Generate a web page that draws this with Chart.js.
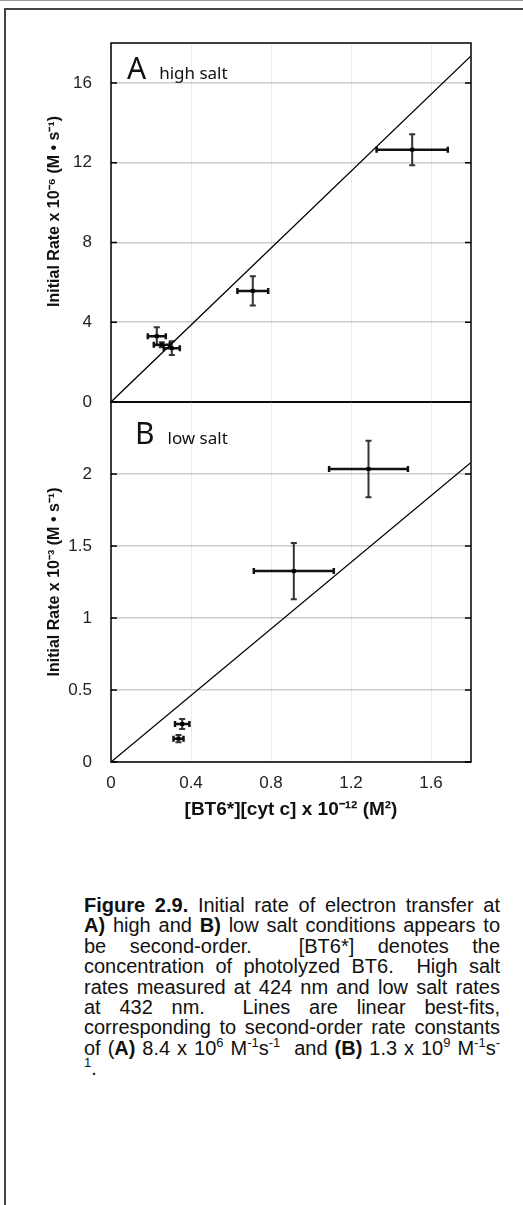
<!DOCTYPE html>
<html>
<head>
<meta charset="utf-8">
<script src="https://cdn.jsdelivr.net/npm/chart.js@4.4.1/dist/chart.umd.min.js"></script>
<style>
  html, body { margin: 0; padding: 0; background: #fff; }
  body { width: 523px; height: 1205px; position: relative; overflow: hidden; font-family: "Liberation Sans", Arial, sans-serif; border-top: 1px solid #999; box-sizing: border-box; }
  #frame { position: absolute; left: 4px; top: 7px; width: 700px; height: 1400px; border-left: 2px solid #444; border-top: 2px solid #444; }
  #topChart { position: absolute; left: 0; top: -1px; }
  #botChart { position: absolute; left: 0; top: 395px; }
  .panel { position: absolute; font-family: "Noto Sans", sans-serif; color: #111; white-space: nowrap; line-height: normal; }
  .panel .big { font-size: 30px; }
  .panel .small { font-size: 17px; margin-left: 13px; }
  #caption { position: absolute; left: 84px; top: 894px; width: 416px; font-size: 20px; line-height: 20.4px; color: #111; }
  #caption div { text-align: justify; text-align-last: justify; white-space: nowrap; }
  #caption div.last { text-align-last: left; }
  #caption sup { font-size: 0.65em; line-height: 0; vertical-align: 0.6em; }
</style>
</head>
<body>
<div id="frame"></div>
<canvas id="topChart" width="523" height="410"></canvas>
<canvas id="botChart" width="523" height="440"></canvas>
<div class="panel" style="left:127px; top:46px;"><span class="big">A</span><span class="small">high salt</span></div>
<div class="panel" style="left:135px; top:411px;"><span class="big">B</span><span class="small">low salt</span></div>
<div id="caption">
  <div><b>Figure 2.9.</b> Initial rate of electron transfer at</div>
  <div><b>A)</b> high and <b>B)</b> low salt conditions appears to</div>
  <div>be second-order.&nbsp; [BT6*] denotes the</div>
  <div>concentration of photolyzed BT6.&nbsp; High salt</div>
  <div>rates measured at 424 nm and low salt rates</div>
  <div>at 432 nm.&nbsp; Lines are linear best-fits,</div>
  <div>corresponding to second-order rate constants</div>
  <div>of (<b>A)</b> 8.4 x 10<sup>6</sup> M<sup>-1</sup>s<sup>-1</sup>&nbsp; and <b>(B)</b> 1.3 x 10<sup>9</sup> M<sup>-1</sup>s<sup>-</sup></div>
  <div class="last"><sup>1</sup>.</div>
</div>
<script>
// axis ranges and tick labels
var xMax = 1.8;
var xTicks = [0, 0.4, 0.8, 1.2, 1.6];
var yMaxA = 18;
var yTicksA = [0, 4, 8, 12, 16];
var yMaxB = 2.5;
var yTicksB = [0, 0.5, 1, 1.5, 2];

// A: high salt
var xA = [0.229, 0.254, 0.304, 0.709, 1.506];
var yA = [3.30, 2.87, 2.70, 5.57, 12.65];
var xErrA = [0.045, 0.04, 0.04, 0.077, 0.178];
var yErrA = [0.45, 0.12, 0.34, 0.73, 0.78];
var fitXA = [0, 1.8];
var fitYA = [0, 17.35];

// B: low salt
var xB = [0.356, 0.3375, 0.914, 1.2875];
var yB = [0.264, 0.162, 1.326, 2.035];
var xErrB = [0.036, 0.025, 0.2, 0.197];
var yErrB = [0.035, 0.025, 0.195, 0.196];
var fitXB = [0, 1.8];
var fitYB = [0, 2.08];

function pts(xs, ys) {
    return xs.map(function (x, i) { return { x: x, y: ys[i] }; });
}

// error bars, drawn under the square markers
var errorBars = {
    id: 'errorBars',
    beforeDatasetsDraw: function (chart) {
        var ctx = chart.ctx;
        var sx = chart.scales.x, sy = chart.scales.y;
        chart.data.datasets.forEach(function (ds) {
            if (!ds.xErr) return;
            ds.data.forEach(function (p, j) {
                var px = sx.getPixelForValue(p.x), py = sy.getPixelForValue(p.y);
                var x1 = sx.getPixelForValue(p.x - ds.xErr[j]), x2 = sx.getPixelForValue(p.x + ds.xErr[j]);
                var y1 = sy.getPixelForValue(p.y - ds.yErr[j]), y2 = sy.getPixelForValue(p.y + ds.yErr[j]);
                ctx.save();
                ctx.strokeStyle = '#111';
                ctx.lineWidth = 2.5;
                ctx.beginPath();
                ctx.moveTo(x1, py); ctx.lineTo(x2, py);
                ctx.moveTo(x1, py - 3); ctx.lineTo(x1, py + 3);
                ctx.moveTo(x2, py - 3); ctx.lineTo(x2, py + 3);
                ctx.stroke();
                ctx.strokeStyle = '#333';
                ctx.lineWidth = 2;
                ctx.beginPath();
                ctx.moveTo(px, y1); ctx.lineTo(px, y2);
                ctx.moveTo(px - 3, y1); ctx.lineTo(px + 3, y1);
                ctx.moveTo(px - 3, y2); ctx.lineTo(px + 3, y2);
                ctx.stroke();
                ctx.restore();
            });
        });
    }
};

// box round the plot and inward ticks on both sides
var frameBox = {
    id: 'frameBox',
    afterDraw: function (chart) {
        var ctx = chart.ctx, a = chart.chartArea, sy = chart.scales.y;
        ctx.save();
        ctx.strokeStyle = '#000';
        ctx.lineWidth = 1.5;
        ctx.strokeRect(a.left, a.top, a.right - a.left, a.bottom - a.top);
        ctx.beginPath();
        sy.ticks.forEach(function (t) {
            var py = sy.getPixelForValue(t.value);
            ctx.moveTo(a.left, py); ctx.lineTo(a.left + 6, py);
            ctx.moveTo(a.right - 6, py); ctx.lineTo(a.right, py);
        });
        ctx.stroke();
        ctx.restore();
    }
};

function noOverhang(s) {
    s.paddingTop = 0; s.paddingBottom = 0; s.paddingLeft = 0; s.paddingRight = 0;
}

function makeOptions(yMax, yTicks, yTitle, bottom) {
    return {
        responsive: false,
        devicePixelRatio: 1,
        animation: false,
        layout: { padding: bottom ? { top: 6, right: 52, bottom: 14, left: 0 } : { top: 43, right: 52, bottom: 8, left: 0 } },
        plugins: { legend: { display: false }, tooltip: { enabled: false } },
        scales: {
            x: {
                type: 'linear',
                min: 0,
                max: xMax,
                afterBuildTicks: function (s) { s.ticks = xTicks.map(function (v) { return { value: v }; }); },
                afterFit: function (s) { s.height = bottom ? 60 : 0; noOverhang(s); },
                grid: { color: '#ebebeb', lineWidth: 1, drawTicks: false },
                border: { display: false },
                ticks: {
                    display: bottom,
                    padding: 11,
                    color: '#222',
                    font: { family: '"Liberation Sans", Arial, sans-serif', size: 17 },
                    callback: function (v) { return String(v); }
                },
                title: {
                    display: bottom,
                    text: '[BT6*][cyt c] x 10\u207B\u00B9\u00B2 (M\u00B2)',
                    color: '#111',
                    padding: { top: 0, bottom: 1 },
                    font: { family: '"Liberation Sans", Arial, sans-serif', size: 19, weight: 'bold' }
                }
            },
            y: {
                type: 'linear',
                min: 0,
                max: yMax,
                afterBuildTicks: function (s) { s.ticks = yTicks.map(function (v) { return { value: v }; }); },
                afterFit: function (s) { s.width = 111; noOverhang(s); },
                grid: { color: '#cccccc', lineWidth: 1.5, drawTicks: false },
                border: { display: false },
                ticks: {
                    padding: 19,
                    color: '#222',
                    font: { family: '"Liberation Sans", Arial, sans-serif', size: 17 },
                    callback: function (v) { return String(v); }
                },
                title: {
                    display: true,
                    text: yTitle,
                    color: '#111',
                    padding: { top: 45, bottom: 0 },
                    font: { family: '"Liberation Sans", Arial, sans-serif', size: 16, weight: 'bold' }
                }
            }
        }
    };
}

function makeData(xs, ys, xe, ye, fx, fy) {
    return {
        datasets: [{
            type: 'line',
            data: pts(fx, fy),
            borderColor: '#000',
            borderWidth: 1.3,
            pointRadius: 0,
            fill: false
        }, {
            type: 'scatter',
            data: pts(xs, ys),
            xErr: xe,
            yErr: ye,
            pointStyle: 'rect',
            pointRadius: 2.8,
            backgroundColor: '#000',
            borderColor: '#000',
            borderWidth: 0
        }]
    };
}

var topChart = new Chart(document.getElementById('topChart').getContext('2d'), {
    type: 'scatter',
    data: makeData(xA, yA, xErrA, yErrA, fitXA, fitYA),
    options: makeOptions(yMaxA, yTicksA, '     Initial Rate x 10\u207B\u2076 (M \u2022 s\u207B\u00B9)', false),
    plugins: [errorBars, frameBox]
});

var botChart = new Chart(document.getElementById('botChart').getContext('2d'), {
    type: 'scatter',
    data: makeData(xB, yB, xErrB, yErrB, fitXB, fitYB),
    options: makeOptions(yMaxB, yTicksB, 'Initial Rate x 10\u207B\u00B3 (M \u2022 s\u207B\u00B9)', true),
    plugins: [errorBars, frameBox]
});
</script>
</body>
</html>
